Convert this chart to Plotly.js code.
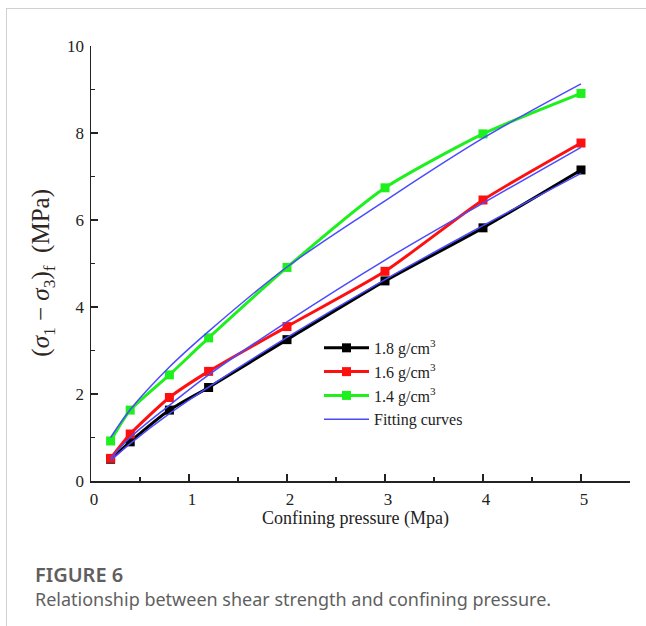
<!DOCTYPE html>
<html>
<head>
<meta charset="utf-8">
<script src="https://cdn.plot.ly/plotly-3.0.1.min.js"></script>
<style>
  html, body { margin: 0; padding: 0; background: #fff; }
  #wrap { position: relative; width: 646px; height: 626px; overflow: hidden; }
  #frame { position: absolute; left: 6px; top: 8px; width: 646px; height: 630px;
           border-top: 1px solid #d0d0d0; border-left: 1px solid #d0d0d0; }
  #chart { position: absolute; left: 0; top: 0; width: 646px; height: 626px; }
  .cap { position: absolute; left: 35px; font-family: "Noto Sans", sans-serif; color: #5f5f5f; white-space: nowrap; }
  #capTitle { top: 561px; font-size: 20px; font-weight: 600; }
  #capText { top: 587px; font-size: 18px; font-weight: 400; }
</style>
</head>
<body>
<div id="wrap">
  <div id="frame"></div>
  <div id="chart"></div>
  <div class="cap" id="capTitle">FIGURE 6</div>
  <div class="cap" id="capText">Relationship between shear strength and confining pressure.</div>
</div>
<script>
// Confining pressure (MPa) at which each specimen group was tested
const pressure = [0.2, 0.4, 0.8, 1.2, 2, 3, 4, 5];

// Measured deviator stress at failure (MPa) for each dry density
const dens18 = [0.50, 0.90, 1.63, 2.15, 3.25, 4.60, 5.82, 7.15];
const dens16 = [0.52, 1.08, 1.92, 2.52, 3.55, 4.82, 6.46, 7.77];
const dens14 = [0.92, 1.63, 2.44, 3.29, 4.91, 6.74, 7.98, 8.91];

// Fitted curves evaluated at the same pressures
const fit18 = [0.47, 0.86, 1.55, 2.16, 3.30, 4.63, 5.87, 7.07];
const fit16 = [0.52, 1.00, 1.74, 2.44, 3.66, 5.08, 6.39, 7.67];
const fit14 = [1.00, 1.64, 2.62, 3.44, 4.92, 6.44, 7.88, 9.13];

// Labelled tick positions on each axis
const xTicks = [0, 1, 2, 3, 4, 5];
const yTicks = [0, 2, 4, 6, 8, 10];

const seriesNames = ['1.8 g/cm<sup>3</sup>', '1.6 g/cm<sup>3</sup>', '1.4 g/cm<sup>3</sup>'];
const fitName = 'Fitting curves';

const serif = 'Liberation Serif';
const ink = '#222';

function measured(y, name, color) {
  return {
    x: pressure, y: y, name: name, type: 'scatter', mode: 'lines+markers',
    line: { color: color, width: 3, shape: 'spline', smoothing: 0.6 },
    marker: { symbol: 'square', size: 9, color: color }
  };
}
function fitted(y, show) {
  return {
    x: pressure, y: y, name: fitName, type: 'scatter', mode: 'lines',
    showlegend: show, legendgroup: 'fit',
    line: { color: '#4a4aff', width: 1.5, shape: 'spline', smoothing: 1 }
  };
}

const data = [
  measured(dens18, seriesNames[0], '#000000'),
  measured(dens16, seriesNames[1], '#ff1010'),
  measured(dens14, seriesNames[2], '#1ef01e'),
  fitted(fit18, true),
  fitted(fit16, false),
  fitted(fit14, false)
];

function axis(range, ticks, minorStep, shift) {
  return {
    range: range, showgrid: false, zeroline: false,
    showline: true, linecolor: ink, linewidth: 1.5,
    tickmode: 'array', tickvals: ticks, ticktext: ticks.map(String),
    ticks: 'inside', ticklen: 7, tickwidth: 1.5, tickcolor: ink,
    ticklabelshift: shift, ticklabelstandoff: 2,
    tickfont: { family: serif, size: 17, color: ink },
    minor: { dtick: minorStep, ticks: 'inside', ticklen: 4, tickwidth: 1.5, tickcolor: ink }
  };
}

const layout = {
  width: 646, height: 626,
  margin: { l: 91, r: 16, t: 46, b: 145 },
  paper_bgcolor: 'rgba(0,0,0,0)',
  plot_bgcolor: 'rgba(0,0,0,0)',
  font: { family: serif, size: 17, color: ink },
  showlegend: true,
  legend: {
    x: 0.423, y: 0.345, xanchor: 'left', yanchor: 'top',
    bgcolor: 'rgba(0,0,0,0)', font: { family: serif, size: 16, color: ink },
    itemwidth: 45, tracegroupgap: 0
  },
  xaxis: axis([0, 5.5], xTicks, 0.5, 3),
  yaxis: axis([0, 10], yTicks, 1, 0),
  annotations: [
    {
      text: 'Confining pressure (Mpa)', xref: 'paper', yref: 'paper',
      x: 0.49, y: -0.058, xanchor: 'center', yanchor: 'top', showarrow: false,
      font: { family: serif, size: 18, color: ink }
    },
    {
      text: '(<i>σ</i><sub>1</sub> − <i>σ</i><sub>3</sub>)<sub>f</sub>  (MPa)',
      xref: 'paper', yref: 'paper', x: -0.09, y: 0.48,
      xanchor: 'center', yanchor: 'middle', textangle: -90, showarrow: false,
      font: { family: serif, size: 25, color: '#2e2622' }
    }
  ]
};

Plotly.newPlot('chart', data, layout, { displayModeBar: false, staticPlot: true });
</script>
</body>
</html>
